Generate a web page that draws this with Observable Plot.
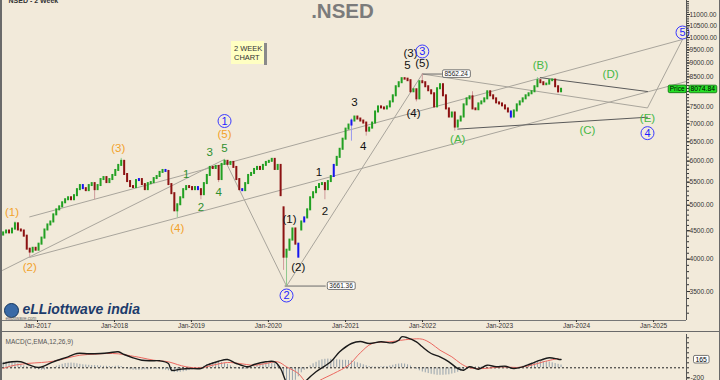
<!DOCTYPE html>
<html><head><meta charset="utf-8">
<script src="https://cdn.jsdelivr.net/npm/d3@7"></script>
<script src="https://cdn.jsdelivr.net/npm/@observablehq/plot@0.6"></script>
<style>
html,body{margin:0;padding:0;background:#f2eada;}
#wrap{position:relative;width:720px;height:380px;overflow:hidden;background:#f2eada;font-family:"Liberation Sans",Arial,sans-serif;}
#main,#macd{position:absolute;left:0;}
#main{top:0;} #macd{top:332px;}
.bl{position:absolute;background:#6a6a6a;}
#wk{position:absolute;left:231px;top:41px;width:33px;height:23px;background:#ffffc2;font-size:7.5px;line-height:9px;color:#333;padding:3px 0 0 3px;box-sizing:border-box;}
#wks{position:absolute;left:264px;top:43px;width:3px;height:22px;background:#8a8a8a;}
</style></head>
<body><div id="wrap">
<div id="main"></div><div id="macd"></div>
<div id="wk">2 WEEK<br>CHART</div><div id="wks"></div>
<div class="bl" style="left:0;top:0;width:2px;height:380px"></div>
<div class="bl" style="left:719px;top:0;width:1px;height:380px"></div>
<div class="bl" style="left:0;top:331px;width:720px;height:1px"></div>
</div>
<script>
// ---- price data: 2-week candles, first bar 2016-07-22 ----
const barStart = Date.UTC(2016, 6, 22);
const close = [
4460,4495,4460,4530,4630,4514,4495,4400,4170,4120,
4185,4152,4257,4365,4514,4609,4666,4805,4906,4967,
5051,5115,5157,5115,5202,5333,5424,5355,5311,5424,
5468,5333,5424,5560,5606,5491,5560,5655,5773,5895,
5995,5678,5514,5401,5379,5537,5560,5446,5333,5468,
5491,5583,5630,5727,5773,5750,5446,5245,4886,5010,
5157,5333,5401,5379,5333,5379,5333,5223,5468,5655,
5846,5820,5870,5560,5919,5995,5919,5968,5846,5560,
5333,5311,5468,5655,5702,5797,5846,5797,5895,5968,
5995,6044,5797,5895,5202,4034,4152,4329,4533,4257,
4034,4666,4745,4906,5157,5266,5379,5446,5468,5333,
5514,5630,5895,6094,6301,6570,6849,6965,7082,7200,
7141,7082,7023,6792,6877,7023,7352,7508,7476,7445,
7508,7665,7860,8160,8297,8437,8420,8367,7992,8059,
7762,8331,8297,8160,8026,7926,7508,8093,8229,7860,
7445,7200,7321,6907,7082,7200,7571,7762,7828,7445,
7420,7602,7665,7762,7992,7860,7762,7634,7600,7540,
7445,7352,7200,7383,7571,7665,7762,7860,7926,7992,
8160,8367,8297,8229,8250,8367,8390,8160,7992,8074.84];
const gapOpen = {0:4420, 95:4947, 101:4514};
const highs = {4:4667, 40:6069, 55:5797, 75:6044, 118:7141, 142:8600, 159:7992, 181:8472};
const lows = {9:4030, 31:5115, 59:4745, 67:5115, 73:5491, 95:3820, 96:3580, 109:5115, 118:6516, 123:6653, 140:7665, 153:6793, 172:7141, 188:7926};
const blueBars = [27,46,55,66,81,100,102,112,118,172];

// ---- MACD panel ----
const macdHist = [
110,120,120,110,95,80,60,40,20,5,
-10,-25,-40,-48,-45,-35,-20,
10,30,50,70,85,90,95,90,80,
70,60,55,50,45,45,40,35,30,30,25,
20,30,35,25,
-10,-25,-40,-48,-50,-50,-45,-40,-40,-35,-30,-30,-35,-40,-45,
-60,-85,-95,-95,-90,-80,-70,
-55,-40,-25,-10,10,30,
60,85,100,110,110,105,90,70,
40,10,-20,-35,-35,-30,-20,-5,
20,45,60,75,85,90,90,80,60,
10,-150,-300,-350,-320,-250,-180,-100,-50,-20,
40,80,110,140,160,170,175,170,165,160,155,150,150,145,135,120,100,
80,60,40,25,20,15,15,20,25,25,
35,50,65,75,80,75,60,35,
5,-30,-60,-85,-100,-115,-130,-140,-150,-150,-150,-145,-140,-125,-110,-90,-70,-50,
-25,-5,10,20,20,15,5,
5,10,5,-5,-10,-10,-15,-20,-25,-15,-5,
10,30,50,70,90,110,120,130,130,125,115,100,85,70,55];
const macdLine = [[0,86],[3,120],[6,120],[9,52],[12,6],[14,40],[17,120],[22,220],[25,286],[29,280],[33,286],[36,300],[39,320],[41,266],[44,200],[47,152],[50,140],[53,140],[56,86],[57,-48],[60,-28],[63,-14],[67,-14],[69,52],[73,132],[76,166],[79,86],[83,20],[85,66],[89,120],[92,120],[94,-14],[96,-300],[99,-560],[102,-300],[106,-80],[111,120],[114,320],[118,486],[121,526],[124,486],[128,520],[132,500],[134,552],[135,620],[137,600],[140,520],[142,420],[145,286],[148,220],[151,120],[154,-14],[156,-48],[158,20],[161,-28],[164,52],[167,20],[170,32],[173,-14],[176,20],[179,86],[182,152],[185,200],[188,172],[189,165]];
const signalLine = [[0,-14],[3,40],[8,86],[13,106],[17,132],[22,200],[26,252],[31,272],[35,286],[39,280],[42,252],[47,200],[51,152],[56,120],[59,66],[62,20],[67,0],[71,52],[76,106],[80,86],[85,52],[89,86],[93,120],[96,20],[100,-114],[102,-254],[104,-380],[107,-260],[112,-114],[117,52],[121,300],[125,486],[131,520],[138,572],[142,572],[145,486],[148,352],[152,220],[155,86],[158,0],[163,-14],[169,20],[174,6],[179,52],[183,120],[188,186]];
const macdNow = 165;

// ---- drawn lines (date, price) ----
const channelUpper = [{d:"2016-11-25",v:4765},{d:"2025-05-18",v:9920}];
const channelLower = [{d:"2016-11-25",v:4030},{d:"2025-06-06",v:8340}];
const waveZigzag = [{d:"2016-07-19",v:3820},{d:"2019-06-07",v:6044},{d:"2020-03-27",v:3580},{d:"2021-12-31",v:8600},{d:"2024-12-03",v:7476},{d:"2025-05-18",v:9920}];
const triACE = [{d:"2022-06-17",v:6849},{d:"2024-12-03",v:7194}];
const triBD = [{d:"2023-07-14",v:8472},{d:"2024-12-03",v:8000}];
const lowMark = [{d:"2020-03-20",v:3580},{d:"2020-09-27",v:3580}];
const lowMarkText = "3661.36";
const highMark = [{d:"2021-12-31",v:8600},{d:"2022-04-01",v:8600}];
const highMarkText = "8562.24";

// ---- wave labels ----
const ORANGE = "#f2a22a", DKGREEN = "#2f8f2f", LTGREEN = "#46b846", BLACK = "#111";
const waveLabels = [
 {t:"(1)", d:"2016-09-02", v:4865, c:ORANGE},
 {t:"(2)", d:"2016-11-25", v:3867, c:ORANGE},
 {t:"(3)", d:"2018-01-19", v:6327, c:ORANGE},
 {t:"(4)", d:"2018-10-26", v:4552, c:ORANGE},
 {t:"(5)", d:"2019-06-07", v:6708, c:ORANGE},
 {t:"1", d:"2018-12-07", v:5678, c:DKGREEN},
 {t:"2", d:"2019-02-15", v:4967, c:DKGREEN},
 {t:"3", d:"2019-03-29", v:6222, c:DKGREEN},
 {t:"4", d:"2019-05-10", v:5266, c:DKGREEN},
 {t:"5", d:"2019-06-07", v:6327, c:DKGREEN},
 {t:"(1)", d:"2020-04-10", v:4725, c:BLACK},
 {t:"(2)", d:"2020-05-22", v:3867, c:BLACK},
 {t:"1", d:"2020-08-28", v:5725, c:BLACK},
 {t:"2", d:"2020-09-25", v:4886, c:BLACK},
 {t:"3", d:"2021-02-12", v:7665, c:BLACK},
 {t:"4", d:"2021-03-26", v:6380, c:BLACK},
 {t:"5", d:"2021-10-22", v:8906, c:BLACK},
 {t:"(5)", d:"2021-12-31", v:8980, c:BLACK},
 {t:"(3)", d:"2021-11-05", v:9361, c:BLACK},
 {t:"(4)", d:"2021-11-19", v:7321, c:BLACK},
 {t:"(A)", d:"2022-06-17", v:6570, c:LTGREEN},
 {t:"(B)", d:"2023-07-14", v:8906, c:LTGREEN},
 {t:"(C)", d:"2024-02-22", v:6820, c:LTGREEN},
 {t:"(D)", d:"2024-06-11", v:8579, c:LTGREEN},
 {t:"(E)", d:"2024-12-03", v:7170, c:LTGREEN}
];
const circled = [
 {t:"1", d:"2019-06-07", v:7082},
 {t:"2", d:"2020-03-27", v:3443},
 {t:"3", d:"2021-12-31", v:9440},
 {t:"4", d:"2024-12-03", v:6736},
 {t:"5", d:"2025-05-18", v:10210}
];
const priceTicks = [3500,4000,4500,5000,5500,6000,6500,7000,7500,8500,9000,9500,10000,10500,11000];

// ---- build tables ----
const dates = close.map((_, i) => new Date(barStart + i * 14 * 864e5));
const bars = close.map((c, i) => {
  const o = gapOpen[i] ?? close[i - 1];
  const hi = Math.max(highs[i] ?? 0, o, c);
  const lo = Math.min(lows[i] ?? Infinity, o, c);
  const kind = blueBars.includes(i) ? "blue" : (c >= o ? "up" : "down");
  return {date: dates[i], open: o, close: c, high: hi, low: lo, kind, hist: macdHist[i]};
});
const bodyCol = {up:"#22a022", down:"#8c1212", blue:"#1616ee"};
const wickCol = {up:"#8fc98f", down:"#cf9a9a", blue:"#9a9aee"};
const xDomain = [new Date(Date.UTC(2016,6,19)), new Date(Date.UTC(2025,5,6))];
const xEnd = xDomain[1];
const D = d => new Date(d.d);
const FONT = "Liberation Sans, Arial, sans-serif";
const lastClose = close[close.length - 1];

const main = Plot.plot({
  width: 720, height: 332, marginLeft: 2, marginRight: 34, marginTop: 0, marginBottom: 12,
  style: {background: "transparent", color: "#333", fontFamily: FONT, overflow: "visible"},
  x: {type: "utc", domain: xDomain, axis: null, label: null},
  y: {type: "log", domain: [3105, 11655], axis: null, label: null},
  marks: [
    Plot.line(channelUpper, {x: D, y: "v", stroke: "#a9a59c", strokeWidth: 1}),
    Plot.line(channelLower, {x: D, y: "v", stroke: "#a9a59c", strokeWidth: 1}),
    Plot.line(waveZigzag, {x: D, y: "v", stroke: "#a9a59c", strokeWidth: 1}),
    Plot.line(triACE, {x: D, y: "v", stroke: "#5a5a5a", strokeWidth: 1}),
    Plot.line(triBD, {x: D, y: "v", stroke: "#5a5a5a", strokeWidth: 1}),
    Plot.line(lowMark, {x: D, y: "v", stroke: "#6a6a6a", strokeWidth: 1}),
    Plot.line(highMark, {x: D, y: "v", stroke: "#6a6a6a", strokeWidth: 1}),
    Plot.ruleX(bars, {x: "date", y1: "low", y2: "high", stroke: d => wickCol[d.kind], strokeWidth: 1}),
    Plot.ruleX(bars, {x: "date", y1: "open", y2: "close", stroke: d => bodyCol[d.kind], strokeWidth: 2, strokeLinecap: "square"}),
    Plot.text(waveLabels, {x: D, y: "v", text: "t", fill: "c", fontSize: 11.5}),
    Plot.dot(circled, {x: D, y: "v", r: 6.5, stroke: "#3b3bff", fill: "none", strokeWidth: 1}),
    Plot.text(circled, {x: D, y: "v", text: "t", fill: "#1f1fff", fontSize: 11}),
    Plot.text([lowMark[1]], {x: D, y: "v", text: () => lowMarkText, dx: 4, textAnchor: "start", fontSize: 6.5, fill: "#222"}),
    Plot.text([highMark[1]], {x: D, y: "v", text: () => highMarkText, dx: 3, textAnchor: "start", fontSize: 6.5, fill: "#222"}),
    Plot.ruleX([xEnd], {stroke: "#555"}),
    Plot.ruleY([3105], {stroke: "#777"}),
    Plot.axisY(priceTicks, {anchor: "right", label: null, tickSize: 3, tickPadding: 0, fontSize: 6.6, tickFormat: d => d.toFixed(2)}),
    Plot.axisY(d3.range(3200, 11601, 100), {anchor: "right", label: null, tickSize: 2, tickFormat: () => ""}),
    Plot.axisX(d3.utcYears(new Date(Date.UTC(2017,0,1)), new Date(Date.UTC(2025,0,2))), {anchor: "bottom", label: null, tickSize: 2, tickPadding: 1, fontSize: 6.5, tickFormat: d3.utcFormat("%b-%Y")}),
    Plot.text([lastClose], {x: () => xEnd, y: d => d, text: () => "Price", dx: -2, textAnchor: "end", fontSize: 6.5, fill: "#000"}),
    Plot.text([lastClose], {x: () => xEnd, y: d => d, text: d => d.toFixed(2), dx: 4, textAnchor: "start", fontSize: 6.8, fill: "#000"}),
    Plot.text([".NSED"], {frameAnchor: "top", text: d => d, dx: -2, dy: 10.5, lineAnchor: "middle", fontSize: 20.5, fontWeight: "bold", fill: "#7b7b7b"}),
    Plot.text(["NSED - 2 Week"], {frameAnchor: "top-left", text: d => d, dx: 6, dy: 2, lineAnchor: "bottom", textAnchor: "start", fontSize: 7, fontWeight: "bold", fill: "#333"}),
    Plot.dot([0], {frameAnchor: "bottom-left", dx: 9, dy: -10, r: 7, fill: "#3a6aa6", stroke: "#14365f", strokeWidth: 1}),
    Plot.text(["eLLiottwave india"], {frameAnchor: "bottom-left", text: d => d, dx: 20, dy: -11, lineAnchor: "middle", textAnchor: "start", fontSize: 14, fontStyle: "italic", fontWeight: "bold", fill: "#1d3b6b"}),
    Plot.text(["elliottwave.com"], {frameAnchor: "bottom-left", text: d => d, dx: 3, dy: -0.3, lineAnchor: "bottom", textAnchor: "start", fontSize: 4.5, fill: "#666"})
  ]
});

const macd = Plot.plot({
  width: 720, height: 48, marginLeft: 2, marginRight: 34, marginTop: 2, marginBottom: 0,
  style: {background: "transparent", color: "#333", fontFamily: FONT, overflow: "visible"},
  x: {type: "utc", domain: xDomain, axis: null, label: null},
  y: {domain: [-254, 666], axis: null, label: null},
  marks: [
    Plot.ruleX(bars, {x: "date", y1: 0, y2: "hist", stroke: "#97a3ac", strokeWidth: 1, clip: true}),
    Plot.ruleY([0], {stroke: "#222", strokeDasharray: "2,2"}),
    Plot.line(signalLine, {x: d => dates[d[0]], y: d => d[1], stroke: "#ec6860", strokeWidth: 1, curve: "catmull-rom", clip: true}),
    Plot.line(macdLine, {x: d => dates[d[0]], y: d => d[1], stroke: "#1a1a1a", strokeWidth: 1.4, curve: "catmull-rom", clip: true}),
    Plot.ruleX([xEnd], {stroke: "#555"}),
    Plot.axisY([-200], {anchor: "right", label: null, tickSize: 3, tickPadding: 1, fontSize: 6.8, tickFormat: d => String(d)}),
    Plot.axisY(d3.range(-200, 601, 100), {anchor: "right", label: null, tickSize: 2, tickFormat: () => ""}),
    Plot.text([macdNow], {x: () => xEnd, y: d => d, text: d => String(d), dx: 9, textAnchor: "start", fontSize: 6.8, fill: "#000"}),
    Plot.text(["MACD(C,EMA,12,26,9)"], {frameAnchor: "top-left", text: d => d, dx: 3, dy: 7.5, lineAnchor: "middle", textAnchor: "start", fontSize: 6.5, fill: "#555"})
  ]
});

document.getElementById("main").appendChild(main);
document.getElementById("macd").appendChild(macd);

// label boxes behind specific texts
function boxText(svg, str, fill, stroke, px, py) {
  svg.querySelectorAll("text").forEach(t => {
    if (t.textContent !== str) return;
    const b = t.getBBox();
    const r = document.createElementNS("http://www.w3.org/2000/svg", "rect");
    r.setAttribute("x", b.x - px); r.setAttribute("y", b.y - py);
    r.setAttribute("width", b.width + 2 * px); r.setAttribute("height", b.height + 2 * py);
    r.setAttribute("rx", 1.5); r.setAttribute("fill", fill); r.setAttribute("stroke", stroke);
    r.setAttribute("stroke-width", 0.8);
    const tr = t.getAttribute("transform"); if (tr) r.setAttribute("transform", tr);
    t.parentNode.insertBefore(r, t);
  });
}
boxText(main, lowMarkText, "#ffffff", "#555", 2, 0.3);
boxText(main, highMarkText, "#ffffff", "#555", 2, 0.3);
boxText(main, "Price", "#27e027", "#0a6a0a", 1.5, 0.3);
boxText(main, lastClose.toFixed(2), "#27e027", "#0a6a0a", 1.5, 0.3);
boxText(macd, String(macdNow), "#ffffff", "#555", 2, 0.3);
</script></body></html>
